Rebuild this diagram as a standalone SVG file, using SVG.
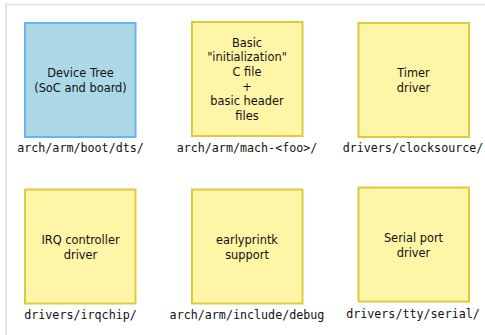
<svg xmlns="http://www.w3.org/2000/svg" width="485" height="335" viewBox="0 0 485 335">
  <style>
    .box { stroke-width: 2; }
    .dt { fill: #add8e6; stroke: #6cb2f4; }
    .drv { fill: #fff5a6; stroke: #dccb3c; }
    .t { font-family: "DejaVu Sans", sans-serif; font-size: 11.4px; fill: #111; text-anchor: middle; }
    .p { font-family: "DejaVu Sans Mono", monospace; font-size: 11.7px; fill: #111; text-anchor: middle; }
  </style>
  <rect width="485" height="335" fill="#ffffff"/>
  <!-- outer frame -->
  <path d="M6,335 V4.5 H485" fill="none" stroke="#e6e6e6" stroke-width="2"/>
  <g id="connectors"/>

  <g id="device-tree">
    <rect class="box dt" x="25" y="23" width="110.5" height="114"/>
    <text class="t" x="80.5" y="77">Device Tree</text>
    <text class="t" x="80.5" y="92">(SoC and board)</text>
    <text class="p" x="80.5" y="152">arch/arm/boot/dts/</text>
  </g>

  <g id="init-file">
    <rect class="box drv" x="192" y="22" width="110.5" height="114"/>
    <text class="t" x="247" y="46.5">Basic</text>
    <text class="t" x="247" y="61.2">"initialization"</text>
    <text class="t" x="247" y="75.9">C file</text>
    <text class="t" x="247" y="90.6">+</text>
    <text class="t" x="247" y="105.3">basic header</text>
    <text class="t" x="247" y="120">files</text>
    <text class="p" x="247" y="152">arch/arm/mach-&lt;foo&gt;/</text>
  </g>

  <g id="timer">
    <rect class="box drv" x="358.5" y="23" width="110.5" height="114"/>
    <text class="t" x="413.5" y="77">Timer</text>
    <text class="t" x="413.5" y="92">driver</text>
    <text class="p" x="413" y="152">drivers/clocksource/</text>
  </g>

  <g id="irq">
    <rect class="box drv" x="25" y="189.5" width="110.5" height="114"/>
    <text class="t" x="80.5" y="243.5">IRQ controller</text>
    <text class="t" x="80.5" y="258.5">driver</text>
    <text class="p" x="80.5" y="319">drivers/irqchip/</text>
  </g>

  <g id="earlyprintk">
    <rect class="box drv" x="192" y="189.5" width="110.5" height="114"/>
    <text class="t" x="247" y="243.5">earlyprintk</text>
    <text class="t" x="247" y="258.5">support</text>
    <text class="p" x="247" y="319">arch/arm/include/debug</text>
  </g>

  <g id="serial">
    <rect class="box drv" x="358.5" y="187.5" width="110.5" height="114"/>
    <text class="t" x="413.5" y="242">Serial port</text>
    <text class="t" x="413.5" y="257">driver</text>
    <text class="p" x="413" y="318">drivers/tty/serial/</text>
  </g>
</svg>
